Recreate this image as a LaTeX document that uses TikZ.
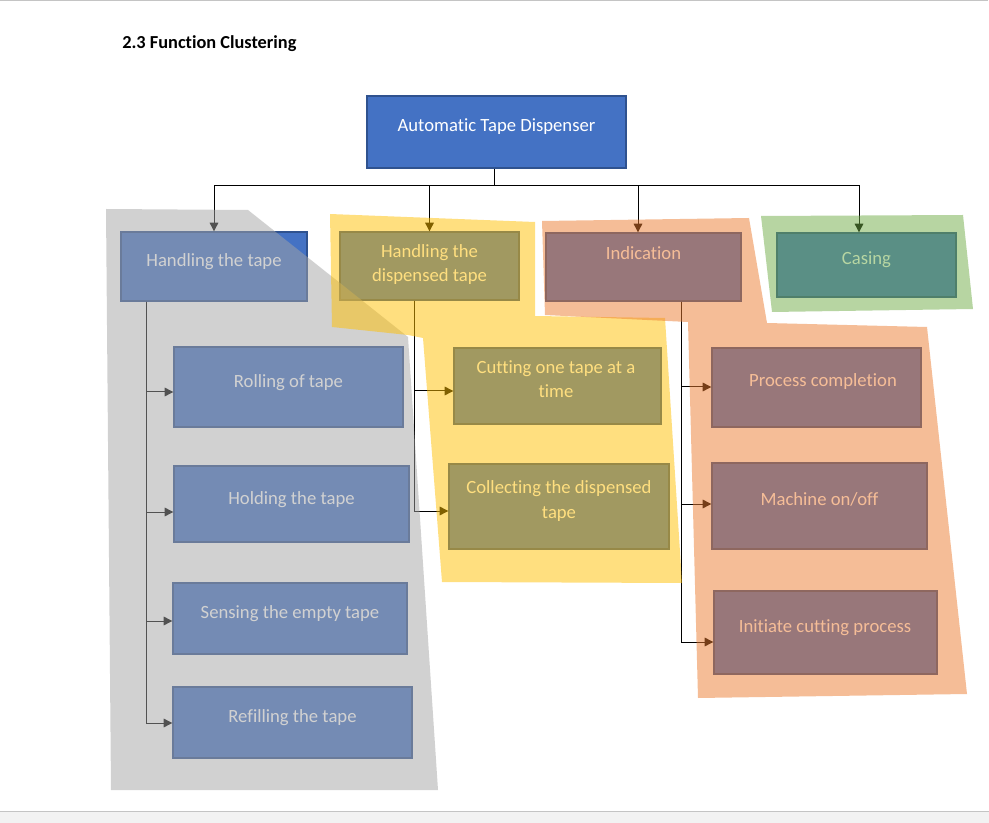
\documentclass[tikz,border=0pt]{standalone}
\usepackage{fontspec}
\setmainfont{Carlito}[Ligatures=NoCommon]
\usetikzlibrary{arrows.meta,fit,calc}
\definecolor{boxblue}{HTML}{4472C4}
\definecolor{boxedge}{HTML}{2F528F}
\definecolor{ovgray}{HTML}{A5A5A5}
\definecolor{ovyellow}{HTML}{FFC000}
\definecolor{ovorange}{HTML}{ED7D31}
\definecolor{ovgreen}{HTML}{70AD47}
\definecolor{pageline}{HTML}{C4C4C4}
\definecolor{pagefoot}{HTML}{F2F2F2}
\begin{document}
\begin{tikzpicture}[x=0.75pt,y=-0.75pt,
  box/.style={draw=boxedge, fill=boxblue, line width=1pt, inner sep=0pt},
  boxtext/.style={text=white, font=\fontsize{14}{18.5}\selectfont, inner sep=0pt, anchor=base, align=center},
  conn/.style={draw=black, line width=0.75pt, -{Triangle[length=6.5pt,width=6.5pt]}},
  plain/.style={draw=black, line width=0.75pt},
  overlay/.style={fill opacity=0.5}]
\useasboundingbox (0,0) rectangle (989,823);
\fill[white] (0,0) rectangle (989,823);
\draw[pageline, line width=0.75pt] (0,0.7) -- (988,0.7);
\fill[pagefoot] (0,811) rectangle (989,823);
\draw[pageline, line width=0.75pt] (0,811) -- (989,811);

\node[anchor=base west, inner sep=0pt, font=\bfseries\fontsize{13.75}{16}\selectfont] (title) at (122,49) {2.3 Function Clustering};

% boxes
\node[box, fit={(367,96) (626,168)}] (top) {};
\node[box, fit={(121,232) (307,301)}] (ht) {};
\node[box, fit={(340,232) (519,300)}] (hd) {};
\node[box, fit={(546,233) (741,301)}] (ind) {};
\node[box, fit={(777,233) (956,297)}] (cas) {};
\node[box, fit={(174,347) (403,427)}] (rt) {};
\node[box, fit={(174,466) (409,542)}] (hol) {};
\node[box, fit={(173,583) (407,654)}] (sen) {};
\node[box, fit={(173,687) (412,758)}] (ref) {};
\node[box, fit={(454,348) (661,424)}] (cut) {};
\node[box, fit={(449,464) (669,549)}] (col) {};
\node[box, fit={(712,348) (921,427)}] (pc) {};
\node[box, fit={(712,463) (927,549)}] (mo) {};
\node[box, fit={(714,591) (937,674)}] (ic) {};

% texts
\node[boxtext] (top-t) at (496.5,132) {Automatic Tape Dispenser};
\node[boxtext] (ht-t) at (214,267) {Handling the tape};
\node[boxtext] (hd-t) at (429.5,282) {Handling the\\dispensed tape};
\node[boxtext] (ind-t) at (643.5,259.5) {Indication};
\node[boxtext] (cas-t) at (866.5,265) {Casing};
\node[boxtext] (rt-t) at (288.5,387.5) {Rolling of tape};
\node[boxtext] (hol-t) at (291.5,504) {Holding the tape};
\node[boxtext] (sen-t) at (290,618) {Sensing the empty tape};
\node[boxtext] (ref-t) at (292.5,722.5) {Refilling the tape};
\node[boxtext] (cut-t) at (556,398) {Cutting one tape at a\\time};
\node[boxtext] (col-t) at (559,518) {Collecting the dispensed\\tape};
\node[boxtext] (pc-t) at (823,387) {Process completion};
\node[boxtext] (mo-t) at (819.5,505.5) {Machine on/off};
\node[boxtext] (ic-t) at (825,632) {Initiate cutting process};

% top connectors
\coordinate (bus) at ($(top.south)+(-2.5,17)$);
\draw[plain] ($(top.south)+(-2.5,0)$) -- (bus);
\draw[conn] (bus) -| (ht.north);
\draw[conn] (bus) -| (hd.north);
\draw[conn] (bus) -| ($(ind.north)+(-5.5,0)$);
\draw[conn] (bus) -| ($(cas.north)+(-7.5,0)$);

% left tree
\coordinate (htv) at ($(ht.south west)+(26,0)$);
\draw[conn] (htv) |- ($(rt.west)+(0,5)$);
\draw[conn] (htv) |- ($(hol.west)+(0,8)$);
\draw[conn] (htv) |- ($(sen.west)+(0,2.5)$);
\draw[conn] (htv) |- ($(ref.west)+(0,0.5)$);

% dispensed tree
\coordinate (hdv) at ($(hd.south west)+(75,0)$);
\draw[conn] (hdv) |- ($(cut.west)+(0,5)$);
\draw[conn] (hdv) |- ($(col.west)+(0,4.5)$);

% indication tree
\coordinate (indv) at ($(ind.south west)+(136,0)$);
\draw[conn] (indv) |- ($(pc.west)+(0,-0.5)$);
\draw[conn] (indv) |- ($(mo.west)+(0,-2)$);
\draw[conn] (indv) |- ($(ic.west)+(0,9.5)$);

% overlays
\fill[ovgray, overlay] (106,209) -- (248,210) -- (408,337) -- (438,790) -- (111,790) -- cycle;
\fill[ovyellow, overlay] (330,214) -- (535,222) -- (535,316) -- (665,318) -- (682,583) -- (442,582) -- (423,338) -- (408,335) -- (332,327) -- cycle;
\fill[ovorange, overlay] (542,221) -- (749,218) -- (767,323) -- (927,327) -- (967,694) -- (698,698) -- (688,322) -- (545,315) -- cycle;
\fill[ovgreen, overlay] (761,216) -- (963,215) -- (973,309) -- (772,312) -- cycle;
\end{tikzpicture}
\end{document}
